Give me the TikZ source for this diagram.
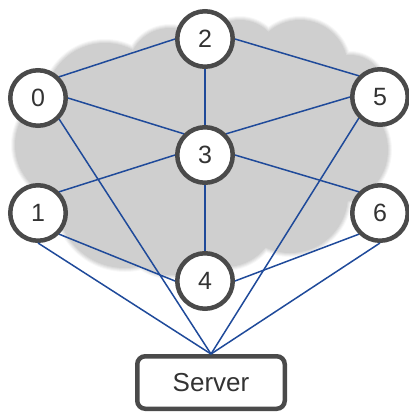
\documentclass[tikz,border=0pt]{standalone}
\usepackage{fontspec}
\setmainfont{Liberation Sans}

\definecolor{cloudgray}{HTML}{CFCFCF}
\definecolor{ringgray}{HTML}{4A4A4A}
\definecolor{linkblue}{HTML}{1F4A9A}
\definecolor{txtgray}{HTML}{333333}

% One layer of the cloud: every lobe grown by #1 pt, filled with #2
\newcommand\cloudlayer[2]{%
  \fill[#2]
    (105,103) circle[radius=60pt+#1pt]
    (170,70)  circle[radius=42pt+#1pt]
    (240,60)  circle[radius=40pt+#1pt]
    (300,68)  circle[radius=48pt+#1pt]
    (350,90)  circle[radius=35pt+#1pt]
    (335,150) circle[radius=53pt+#1pt]
    (290,195) circle[radius=58pt+#1pt]
    (225,215) circle[radius=52pt+#1pt]
    (170,225) circle[radius=50pt+#1pt]
    (125,200) circle[radius=68pt+#1pt]
    (70,145)  circle[radius=55pt+#1pt]
    (205,140) circle[radius=100pt+#1pt]
    (290,140) circle[radius=60pt+#1pt]
    (120,150) circle[radius=70pt+#1pt];}

\begin{document}
\begin{tikzpicture}[x=1pt,y=-1pt,
  peer/.style={circle, draw=ringgray, line width=4.5pt, fill=white,
    minimum size=55.5pt, inner sep=0pt, text=txtgray,
    font=\fontsize{25}{30}\selectfont},
  hostbox/.style={rectangle, rounded corners=8pt, draw=ringgray,
    line width=4.5pt, fill=white, minimum width=147.5pt,
    minimum height=52.5pt, text=txtgray, font=\fontsize{26}{31}\selectfont},
  link/.style={draw=linkblue, line width=1.5pt}]

\useasboundingbox (0,0) rectangle (409,413);

% soft-edged grey cloud
\cloudlayer{4}{cloudgray!15}
\cloudlayer{3}{cloudgray!35}
\cloudlayer{2}{cloudgray!55}
\cloudlayer{1}{cloudgray!78}
\cloudlayer{0}{cloudgray}

% peers and server
\node[peer] (n0) at (38,98)  {0};
\node[peer] (n2) at (205,39) {2};
\node[peer] (n5) at (380,97) {5};
\node[peer] (n3) at (205,155) {3};
\node[peer] (n1) at (38,213) {1};
\node[peer] (n6) at (380,213) {6};
\node[peer] (n4) at (205,281) {4};
\node[hostbox] (srv) at (211,382.5) {Server};

% overlay links between peers
\draw[link] (n0.north east) -- (n2.west);
\draw[link] (n2.east) -- (n5.north west);
\draw[link] (n0.east) -- (n3.north west);
\draw[link] (n2.south) -- (n3.north);
\draw[link] (n3.north east) -- (n5.west);
\draw[link] (n1.north east) -- (n3.west);
\draw[link] (n3.east) -- (n6.north west);
\draw[link] (n3.south) -- (n4.north);
\draw[link] (n1.south east) -- (n4.west);
\draw[link] (n4.east) -- (n6.south west);

% links to the server
\draw[link] (n0.south east) -- (srv.north);
\draw[link] (n1.south) -- (srv.north);
\draw[link] (n5.south west) -- (srv.north);
\draw[link] (n6.south) -- (srv.north);
\end{tikzpicture}
\end{document}
